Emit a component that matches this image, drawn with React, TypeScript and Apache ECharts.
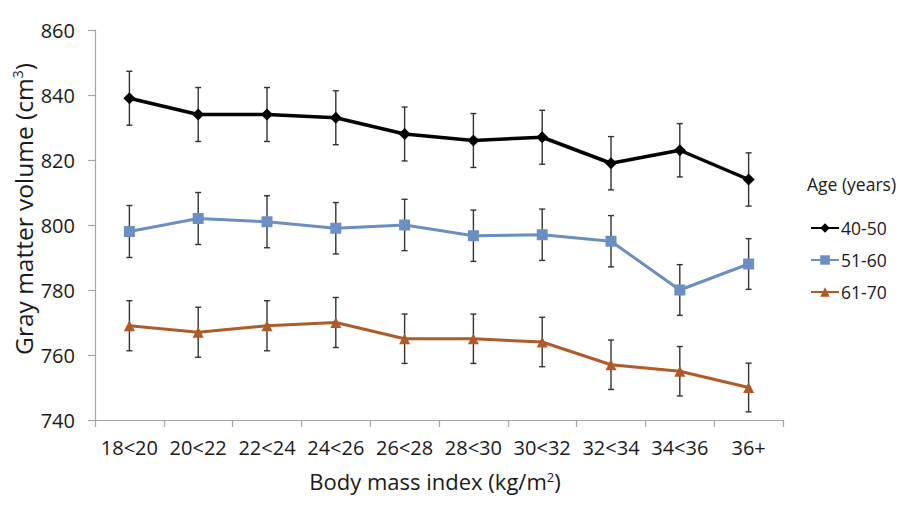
import React, { useEffect, useRef } from "react";
import * as echarts from "echarts";

const categories = ["18<20", "20<22", "22<24", "24<26", "26<28", "28<30", "30<32", "32<34", "34<36", "36+"];
const age4050 = [839, 834, 834, 833, 828, 826, 827, 819, 823, 814];
const age5160 = [798, 802, 801, 799, 800, 796.7, 797, 795, 780, 788];
const age6170 = [769, 767, 769, 770, 765, 765, 764, 757, 755, 750];
const err4050 = [8.3, 8.3, 8.3, 8.3, 8.3, 8.3, 8.3, 8.2, 8.2, 8.2];
const err5160 = [8.0, 8.0, 8.0, 7.9, 7.9, 7.9, 7.9, 7.9, 7.8, 7.8];
const err6170 = [7.7, 7.7, 7.7, 7.7, 7.6, 7.6, 7.6, 7.6, 7.6, 7.5];
const seriesNames = ["40-50", "51-60", "61-70"];
const yTicks = { min: 740, max: 860, interval: 20 };

const FONT = "'Open Sans', 'Noto Sans', sans-serif";
const TEXT = "#1a1a1a";
const AXIS = "#a6a6a6";
const colors = ["#000000", "#6b8fc2", "#b05a2a"];

function errData(vals: number[], errs: number[]) {
  return vals.map((v, i) => [i, v - errs[i], v + errs[i]]);
}

function errSeries(vals: number[], errs: number[]) {
  return {
    type: "custom",
    z: 1,
    silent: true,
    data: errData(vals, errs),
    renderItem: (params: any, api: any) => {
      const x = api.value(0);
      const lo = api.coord([x, api.value(1)]);
      const hi = api.coord([x, api.value(2)]);
      const cap = 3;
      const style = { stroke: "#333333", lineWidth: 1.4 };
      return {
        type: "group",
        children: [
          { type: "line", shape: { x1: lo[0], y1: lo[1], x2: hi[0], y2: hi[1] }, style },
          { type: "line", shape: { x1: lo[0] - cap, y1: lo[1], x2: lo[0] + cap, y2: lo[1] }, style },
          { type: "line", shape: { x1: hi[0] - cap, y1: hi[1], x2: hi[0] + cap, y2: hi[1] }, style },
        ],
      };
    },
  };
}

export default function App() {
  const ref = useRef<HTMLDivElement>(null);
  useEffect(() => {
    if (!ref.current) return;
    const chart = echarts.init(ref.current, undefined, { renderer: "svg" });
    const sup = { fontSize: 13, fontFamily: FONT, fill: TEXT, verticalAlign: "top", padding: [0, 0, 9, 0] };
    const supY = { fontSize: 14, fontFamily: FONT, fill: TEXT, verticalAlign: "top", padding: [0, 0, 10, 0] };
    chart.setOption({
      animation: false,
      backgroundColor: "#ffffff",
      textStyle: { fontFamily: FONT },
      grid: { left: 95, right: 117, top: 30, bottom: 88, containLabel: false },
      legend: {
        orient: "vertical",
        left: 805,
        top: 214,
        itemWidth: 28,
        itemHeight: 12,
        itemGap: 14,
        data: seriesNames,
        textStyle: { fontFamily: FONT, fontSize: 17.5, color: TEXT, padding: [0, 0, 0, -3] },
      },
      xAxis: {
        type: "category",
        data: categories,
        boundaryGap: true,
        axisLine: { lineStyle: { color: AXIS, width: 1.2 } },
        axisTick: { show: true, length: 7, lineStyle: { color: AXIS, width: 1.2 } },
        axisLabel: { fontFamily: FONT, fontSize: 20, color: TEXT, margin: 17, interval: 0 },
        splitLine: { show: false },
      },
      yAxis: {
        type: "value",
        min: yTicks.min,
        max: yTicks.max,
        interval: yTicks.interval,
        axisLine: { show: true, lineStyle: { color: AXIS, width: 1.2 } },
        axisTick: { show: true, inside: false, length: 7, lineStyle: { color: AXIS, width: 1.2 } },
        axisLabel: { fontFamily: FONT, fontSize: 20, color: TEXT, margin: 20 },
        splitLine: { show: false },
      },
      graphic: [
        {
          type: "text",
          x: 23,
          y: 209,
          rotation: Math.PI / 2,
          style: {
            text: "Gray matter volume (cm{sup|3})",
            fontFamily: FONT,
            fontSize: 24.5,
            fill: TEXT,
            align: "center",
            verticalAlign: "middle",
            rich: { sup: supY },
          },
        },
        {
          type: "text",
          x: 435,
          y: 481,
          style: {
            text: "Body mass index (kg/m{sup|2})",
            fontFamily: FONT,
            fontSize: 22,
            fill: TEXT,
            align: "center",
            verticalAlign: "middle",
            rich: { sup },
          },
        },
        {
          type: "text",
          left: 807,
          top: 175,
          style: { text: "Age (years)", fontFamily: FONT, fontSize: 17.5, fill: TEXT },
        },
      ],
      series: [
        errSeries(age4050, err4050),
        errSeries(age5160, err5160),
        errSeries(age6170, err6170),
        {
          name: seriesNames[0],
          type: "line",
          z: 3,
          data: age4050,
          symbol: "diamond",
          symbolSize: 12,
          lineStyle: { color: colors[0], width: 3.5 },
          itemStyle: { color: colors[0] },
        },
        {
          name: seriesNames[1],
          type: "line",
          z: 3,
          data: age5160,
          symbol: "rect",
          symbolSize: 11,
          lineStyle: { color: colors[1], width: 3 },
          itemStyle: { color: colors[1] },
        },
        {
          name: seriesNames[2],
          type: "line",
          z: 3,
          data: age6170,
          symbol: "triangle",
          symbolSize: 11,
          lineStyle: { color: colors[2], width: 3 },
          itemStyle: { color: colors[2] },
        },
      ],
    });
    return () => chart.dispose();
  }, []);
  return <div ref={ref} style={{ width: 900, height: 508, position: "absolute", left: 0, top: 0 }} />;
}
